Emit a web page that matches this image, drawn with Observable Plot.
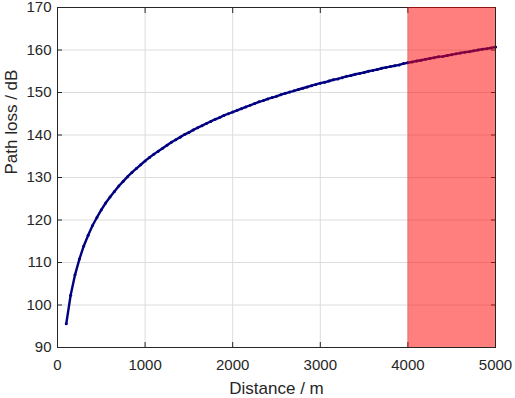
<!DOCTYPE html>
<html><head><meta charset="utf-8">
<script src="https://cdn.jsdelivr.net/npm/d3@7"></script>
<script src="https://cdn.jsdelivr.net/npm/@observablehq/plot@0.6"></script>
<style>html,body{margin:0;padding:0;background:#fff} svg{display:block}</style>
</head><body><div id="chart"></div>
<script>
// Distance (m) and path loss (dB)
const distance = [100,150,200,250,300,350,400,450,500,550,600,650,700,750,800,850,900,950,
  1000,1050,1100,1150,1200,1250,1300,1350,1400,1450,1500,1550,1600,1650,1700,1750,1800,1850,1900,1950,
  2000,2050,2100,2150,2200,2250,2300,2350,2400,2450,2500,2550,2600,2650,2700,2750,2800,2850,2900,2950,
  3000,3050,3100,3150,3200,3250,3300,3350,3400,3450,3500,3550,3600,3650,3700,3750,3800,3850,3900,3950,
  4000,4050,4100,4150,4200,4250,4300,4350,4400,4450,4500,4550,4600,4650,4700,4750,4800,4850,4900,4950,5000];
const pathLoss = [95.6,102.3,107.1,110.8,113.9,116.4,118.7,120.6,122.4,124.0,125.4,126.7,128.0,129.1,130.2,131.2,132.1,133.0,
  133.9,134.7,135.5,136.2,136.9,137.6,138.3,138.9,139.5,140.1,140.6,141.2,141.7,142.2,142.7,143.2,143.7,144.1,144.6,145.0,
  145.4,145.8,146.2,146.6,147.0,147.4,147.8,148.1,148.5,148.8,149.1,149.5,149.8,150.1,150.4,150.7,151.0,151.3,151.6,151.9,
  152.2,152.4,152.7,153.0,153.2,153.5,153.8,154.0,154.3,154.5,154.7,155.0,155.2,155.4,155.7,155.9,156.1,156.3,156.5,156.8,
  157.0,157.2,157.4,157.6,157.8,158.0,158.2,158.4,158.5,158.7,158.9,159.1,159.3,159.5,159.6,159.8,160.0,160.2,160.3,160.5,160.7];
const xTicks = [0,1000,2000,3000,4000,5000];
const yTicks = [90,100,110,120,130,140,150,160,170];
const shadeStart = [4000];
const shadeEnd = [5000];
const xLabel = "Distance / m";
const yLabel = "Path loss / dB";

const data = distance.map((d, i) => ({d, pl: pathLoss[i]}));
const shade = shadeStart.map((s, i) => ({start: s, end: shadeEnd[i]}));
const axisColor = "#262626";
const lineColor = "#000080";

const chart = Plot.plot({
  width: 515, height: 398,
  marginLeft: 57, marginRight: 20, marginTop: 7, marginBottom: 51,
  style: {fontFamily: "'Liberation Sans', Arial, sans-serif", fontSize: "15px", color: axisColor, background: "#fff", overflow: "visible"},
  x: {domain: [0, 5000]},
  y: {domain: [90, 170]},
  marks: [
    Plot.gridX(xTicks, {stroke: "#dcdcdc", strokeOpacity: 1}),
    Plot.gridY(yTicks, {stroke: "#dcdcdc", strokeOpacity: 1}),
    Plot.line(data, {x: "d", y: "pl", stroke: lineColor, strokeWidth: 2.4}),
    Plot.dot(data, {x: "d", y: "pl", r: 1.5, fill: lineColor, stroke: null}),
    Plot.frame({stroke: axisColor, strokeWidth: 1}),
    Plot.axisX(xTicks, {anchor: "bottom", tickSize: 5, dy: -5, tickFormat: () => "", label: null, stroke: axisColor}),
    Plot.axisX(xTicks, {anchor: "top", tickSize: 5, dy: 5, tickFormat: () => "", label: null, stroke: axisColor}),
    Plot.axisY(yTicks, {anchor: "left", tickSize: 5, dx: 5, tickFormat: () => "", label: null, stroke: axisColor}),
    Plot.axisY(yTicks, {anchor: "right", tickSize: 5, dx: -5, tickFormat: () => "", label: null, stroke: axisColor}),
    Plot.rect(shade, {x1: "start", x2: "end", fill: "#ff0000", fillOpacity: 0.5}),
    Plot.axisX(xTicks, {anchor: "bottom", tickSize: 0, tickPadding: 12, label: null, tickFormat: d => String(d)}),
    Plot.axisY(yTicks, {anchor: "left", tickSize: 0, tickPadding: 6, label: null, tickFormat: d => String(d)}),
    Plot.text([xLabel], {frameAnchor: "bottom", dy: 41, fontSize: 17, lineAnchor: "middle", fill: axisColor}),
    Plot.text([yLabel], {frameAnchor: "left", rotate: -90, dx: -46, dy: -3, fontSize: 17, lineAnchor: "middle", fill: axisColor})
  ]
});
document.getElementById("chart").appendChild(chart);
</script>
</body></html>
